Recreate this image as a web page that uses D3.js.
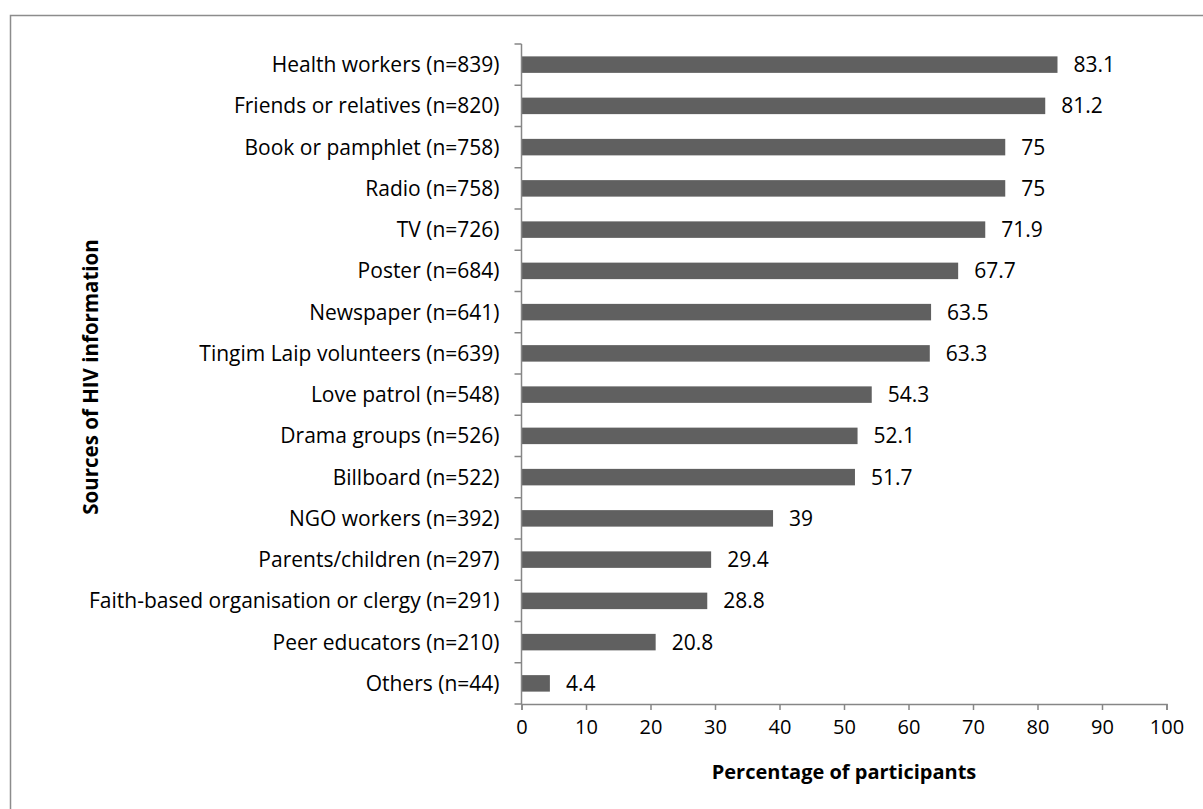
<!DOCTYPE html>
<html>
<head>
<meta charset="utf-8">
<script src="https://cdn.jsdelivr.net/npm/d3@7"></script>
<style>
  body { margin: 0; background: #fff; }
  svg text { font-family: "Open Sans", sans-serif; fill: #000; }
</style>
</head>
<body>
<div id="chart"></div>
<script>
let sources = [
    "Health workers (n=839)",
    "Friends or relatives (n=820)",
    "Book or pamphlet (n=758)",
    "Radio (n=758)",
    "TV (n=726)",
    "Poster (n=684)",
    "Newspaper (n=641)",
    "Tingim Laip volunteers (n=639)",
    "Love patrol (n=548)",
    "Drama groups (n=526)",
    "Billboard (n=522)",
    "NGO workers (n=392)",
    "Parents/children (n=297)",
    "Faith-based organisation or clergy (n=291)",
    "Peer educators (n=210)",
    "Others (n=44)"
]
let percents = [83.1, 81.2, 75, 75, 71.9, 67.7, 63.5, 63.3, 54.3, 52.1, 51.7, 39, 29.4, 28.8, 20.8, 4.4]
let xTicks = [0, 10, 20, 30, 40, 50, 60, 70, 80, 90, 100]

let margin = {top: 44, right: 36, bottom: 105, left: 521.5}
let width = 1203 - margin.left - margin.right
let height = 809 - margin.top - margin.bottom

let root = d3.select("#chart")
    .append("svg")
    .attr("width", 1203)
    .attr("height", 809)

// outer frame (right and bottom edges fall outside the picture)
root.append("rect")
    .attr("x", 10.5)
    .attr("y", 15.5)
    .attr("width", 1300)
    .attr("height", 900)
    .attr("fill", "none")
    .attr("stroke", "#8c8c8c")
    .attr("stroke-width", 1.5)

let svg = root.append("g")
    .attr("transform", "translate(" + margin.left + "," + margin.top + ")")

let x = d3.scaleLinear()
    .domain([0, 100])
    .range([0, 645])

let y = d3.scaleBand()
    .domain(sources)
    .range([0, height])
    .paddingInner(0.6)
    .paddingOuter(0.3)

let data = sources.map((s, i) => ({source: s, value: percents[i]}))

svg.selectAll(".bar")
    .data(data)
    .enter()
    .append("rect")
    .attr("class", "bar")
    .attr("x", x(0))
    .attr("y", d => y(d.source))
    .attr("width", d => x(d.value) - x(0))
    .attr("height", y.bandwidth())
    .attr("fill", "#606060")

svg.selectAll(".val")
    .data(data)
    .enter()
    .append("text")
    .attr("class", "val")
    .attr("x", d => x(d.value) + 16)
    .attr("y", d => y(d.source) + y.bandwidth() / 2)
    .attr("dy", "0.36em")
    .style("font-size", "21px")
    .text(d => d.value)

// x axis
let xAxis = svg.append("g")
    .attr("transform", "translate(0," + height + ")")
    .call(d3.axisBottom(x).tickValues(xTicks).tickSize(6).tickSizeOuter(6).tickPadding(10))
xAxis.selectAll("path, line").attr("stroke", "#868686").attr("stroke-width", 1.5)
xAxis.selectAll("text").style("font-size", "20px").attr("fill", "#000")

// y axis with ticks between categories
let step = height / sources.length
let yAxis = svg.append("g")
yAxis.append("line")
    .attr("x1", 0).attr("x2", 0)
    .attr("y1", 0).attr("y2", height)
    .attr("stroke", "#868686").attr("stroke-width", 1.5)
yAxis.selectAll(".ytick")
    .data(d3.range(sources.length + 1))
    .enter()
    .append("line")
    .attr("x1", -7).attr("x2", 0)
    .attr("y1", d => d * step).attr("y2", d => d * step)
    .attr("stroke", "#868686").attr("stroke-width", 1.5)
yAxis.selectAll(".ylab")
    .data(sources)
    .enter()
    .append("text")
    .attr("x", -22)
    .attr("y", d => y(d) + y.bandwidth() / 2)
    .attr("dy", "0.36em")
    .attr("text-anchor", "end")
    .style("font-size", "21px")
    .text(d => d)

// axis titles
root.append("text")
    .attr("x", 844)
    .attr("y", 779)
    .attr("text-anchor", "middle")
    .style("font-size", "20px")
    .style("font-weight", "bold")
    .text("Percentage of participants")

root.append("text")
    .attr("transform", "translate(98,377) rotate(-90)")
    .attr("text-anchor", "middle")
    .style("font-size", "20.5px")
    .style("font-weight", "bold")
    .text("Sources of HIV information")
</script>
</body>
</html>
